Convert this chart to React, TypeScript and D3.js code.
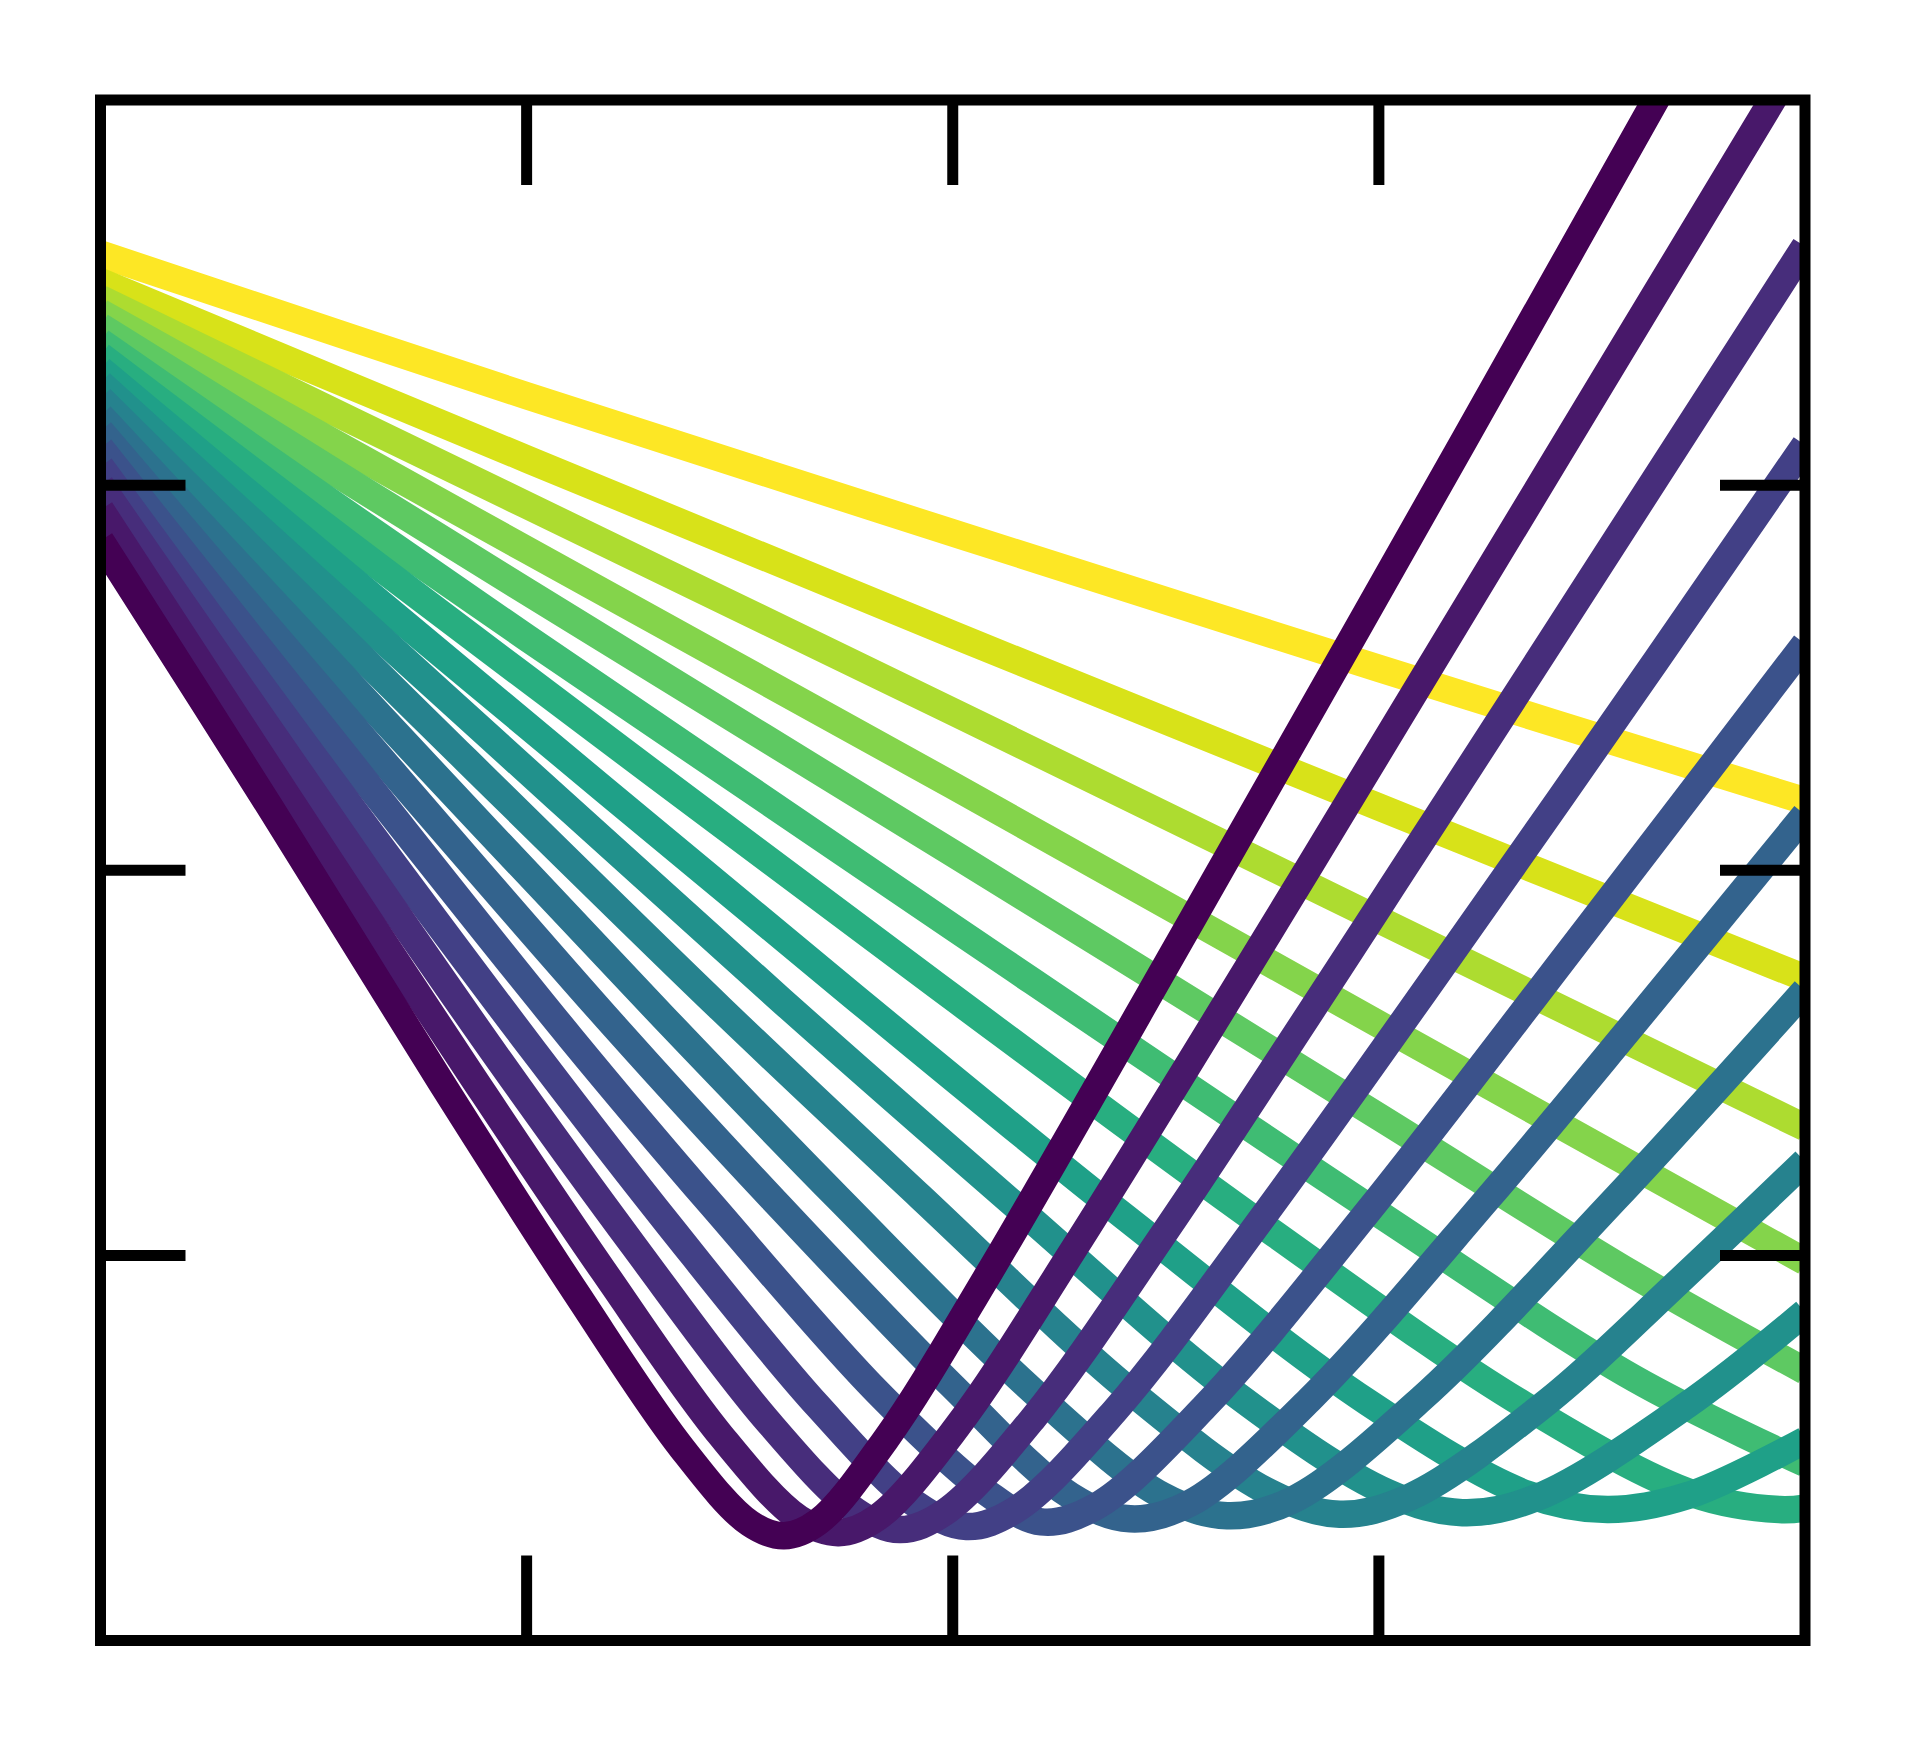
import * as d3 from "d3";
import { useEffect, useRef } from "react";

// tick positions (no labels in the figure)
const xTicks = [0.25, 0.5, 0.75];
const yTicks = [0.25, 0.5, 0.75];

// one array per curve, darkest (0) to lightest (16)
const c00 = [[0, 0.714], [0.1, 0.54], [0.2, 0.362], [0.28, 0.224], [0.341, 0.125], [0.381, 0.076], [0.401, 0.068], [0.421, 0.077], [0.461, 0.131], [0.521, 0.238], [0.641, 0.469], [0.8, 0.779], [0.95, 1.074]];
const c01 = [[0, 0.734], [0.108, 0.551], [0.217, 0.368], [0.295, 0.24], [0.364, 0.133], [0.41, 0.079], [0.433, 0.07], [0.456, 0.08], [0.502, 0.138], [0.571, 0.254], [0.709, 0.502], [0.85, 0.76], [1.0, 1.035]];
const c02 = [[0, 0.75], [0.117, 0.563], [0.235, 0.375], [0.313, 0.256], [0.391, 0.143], [0.443, 0.084], [0.469, 0.072], [0.495, 0.083], [0.547, 0.144], [0.625, 0.266], [0.781, 0.529], [0.89, 0.716], [1.0, 0.905]];
const c03 = [[0, 0.762], [0.127, 0.571], [0.254, 0.383], [0.334, 0.269], [0.421, 0.152], [0.479, 0.088], [0.508, 0.074], [0.537, 0.085], [0.595, 0.149], [0.682, 0.275], [0.856, 0.546], [1.0, 0.776]];
const c04 = [[0, 0.774], [0.138, 0.582], [0.276, 0.391], [0.36, 0.281], [0.456, 0.161], [0.52, 0.096], [0.552, 0.077], [0.584, 0.087], [0.648, 0.152], [0.744, 0.279], [0.872, 0.462], [1.0, 0.647]];
const c05 = [[0, 0.785], [0.151, 0.59], [0.302, 0.398], [0.394, 0.287], [0.499, 0.166], [0.569, 0.094], [0.604, 0.079], [0.639, 0.089], [0.709, 0.156], [0.814, 0.287], [0.9, 0.401], [1.0, 0.536]];
const c06 = [[0, 0.795], [0.165, 0.599], [0.33, 0.405], [0.433, 0.287], [0.547, 0.162], [0.623, 0.094], [0.661, 0.081], [0.699, 0.091], [0.775, 0.157], [0.889, 0.287], [1.0, 0.422]];
const c07 = [[0, 0.806], [0.182, 0.607], [0.364, 0.41], [0.481, 0.288], [0.604, 0.162], [0.686, 0.096], [0.727, 0.082], [0.768, 0.093], [0.85, 0.156], [0.925, 0.232], [1.0, 0.311]];
const c08 = [[0, 0.816], [0.2, 0.615], [0.4, 0.415], [0.535, 0.284], [0.667, 0.159], [0.755, 0.096], [0.799, 0.083], [0.843, 0.093], [0.931, 0.153], [1.0, 0.213]];
const c09 = [[0, 0.825], [0.221, 0.621], [0.442, 0.418], [0.602, 0.274], [0.743, 0.155], [0.837, 0.095], [0.884, 0.085], [0.931, 0.094], [1.0, 0.13]];
const c10 = [[0, 0.834], [0.246, 0.628], [0.492, 0.424], [0.685, 0.267], [0.835, 0.153], [0.935, 0.095], [0.985, 0.085], [1.0, 0.086]];
const c11 = [[0, 0.843], [0.25, 0.651], [0.5, 0.463], [0.75, 0.277], [0.9, 0.17], [1.0, 0.115]];
const c12 = [[0, 0.853], [0.25, 0.681], [0.5, 0.511], [0.75, 0.34], [0.9, 0.237], [1.0, 0.175]];
const c13 = [[0, 0.862], [0.25, 0.708], [0.5, 0.555], [0.75, 0.4], [1.0, 0.246]];
const c14 = [[0, 0.871], [0.25, 0.737], [0.5, 0.603], [0.75, 0.468], [1.0, 0.333]];
const c15 = [[0, 0.882], [0.25, 0.767], [0.5, 0.653], [0.75, 0.541], [1.0, 0.43]];
const c16 = [[0, 0.9], [0.25, 0.808], [0.5, 0.719], [0.75, 0.631], [1.0, 0.545]];

const curves = [c00, c01, c02, c03, c04, c05, c06, c07, c08, c09, c10, c11, c12, c13, c14, c15, c16];

function App() {
	const ref = useRef<SVGSVGElement>(null);

	useEffect(() => {
		const svg = d3.select(ref.current);
		svg.selectAll("*").remove();

		const left = 100.5, right = 1805, top = 100, bottom = 1640.5;
		const x = d3.scaleLinear().domain([0, 1]).range([left, right]);
		const y = d3.scaleLinear().domain([0, 1]).range([bottom, top]);

		svg.append("defs")
			.append("clipPath")
			.attr("id", "plotClip")
			.append("rect")
			.attr("x", left)
			.attr("y", top)
			.attr("width", right - left)
			.attr("height", bottom - top);

		const line = d3
			.line<number[]>()
			.x((d) => x(d[0]))
			.y((d) => y(d[1]))
			.curve(d3.curveCatmullRom.alpha(0.5));

		const g = svg.append("g").attr("clip-path", "url(#plotClip)");

		// lightest first, darkest ends on top
		const order = curves.map((c, i) => i).reverse();
		order.forEach((i) => {
			g.append("path")
				.attr("d", line(curves[i]))
				.attr("fill", "none")
				.attr("stroke", d3.interpolateViridis(i / (curves.length - 1)))
				.attr("stroke-width", 27.5)
				.attr("stroke-linejoin", "round");
		});

		const tickLen = 85;
		const ticks = svg.append("g").attr("stroke", "#000").attr("stroke-width", 11);
		xTicks.forEach((t) => {
			ticks.append("line").attr("x1", x(t)).attr("x2", x(t)).attr("y1", bottom).attr("y2", bottom - tickLen);
			ticks.append("line").attr("x1", x(t)).attr("x2", x(t)).attr("y1", top).attr("y2", top + tickLen);
		});
		yTicks.forEach((t) => {
			ticks.append("line").attr("x1", left).attr("x2", left + tickLen).attr("y1", y(t)).attr("y2", y(t));
			ticks.append("line").attr("x1", right).attr("x2", right - tickLen).attr("y1", y(t)).attr("y2", y(t));
		});

		svg.append("rect")
			.attr("x", left)
			.attr("y", top)
			.attr("width", right - left)
			.attr("height", bottom - top)
			.attr("fill", "none")
			.attr("stroke", "#000")
			.attr("stroke-width", 11)
			.attr("stroke-linejoin", "miter");
	}, []);

	return (
		<svg
			ref={ref}
			width={1905}
			height={1740}
			style={{ position: "absolute", left: 0, top: 0, background: "#fff" }}
		/>
	);
}

export default App;
